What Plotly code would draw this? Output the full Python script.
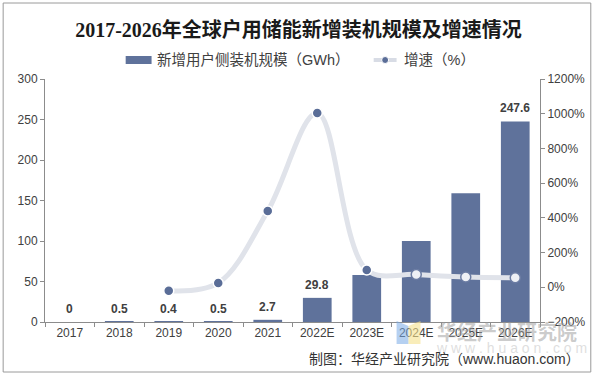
import plotly.graph_objects as go

categories = ["2017", "2018", "2019", "2020", "2021", "2022E", "2023E", "2024E", "2025E", "2026E"]
capacity_gwh = [0, 0.5, 0.4, 0.5, 2.7, 29.8, 58, 100, 159, 247.6]
capacity_labels = ["0", "0.5", "0.4", "0.5", "2.7", "29.8", None, None, None, "247.6"]
growth_pct = [None, None, -20, 25, 440, 1004, 100, 74, 59, 55]

W, H = 597, 377
ML, MR, MT, MB = 45, 55, 79, 55
PW, PH = W - ML - MR, H - MT - MB


def px(x):
    return (x - ML) / PW


def py(y):
    return (H - MB - y) / PH


FONT = "Liberation Sans, Noto Sans CJK SC, sans-serif"
BAR_COLOR = "#5f729b"

fig = go.Figure()

fig.add_trace(go.Bar(
    x=categories, y=capacity_gwh, marker_color=BAR_COLOR, marker_line_width=0,
    yaxis="y", showlegend=False, hoverinfo="x+y",
))

marker_fill = ["#5a6d97"] * 7 + ["#eef0f5"] * 3
marker_line = ["#ffffff"] * 7 + ["#6b7ca3"] * 3
fig.add_trace(go.Scatter(
    x=categories, y=growth_pct, yaxis="y2", mode="lines+markers",
    line=dict(color="#e0e3ea", width=5, shape="spline", smoothing=1.0),
    marker=dict(size=10, color=marker_fill, line=dict(color=marker_line, width=1.5)),
    connectgaps=False, showlegend=False,
))

annotations = []
for i, (v, t) in enumerate(zip(capacity_gwh, capacity_labels)):
    if t is None:
        continue
    annotations.append(dict(
        x=i, y=v, xref="x", yref="y", text="<b>%s</b>" % t, showarrow=False,
        yanchor="bottom", yshift=4, font=dict(family=FONT, size=12, color="#404040"),
    ))

# custom legend
annotations.append(dict(
    x=px(155), y=py(60), xref="paper", yref="paper", xanchor="left", yanchor="middle",
    text="新增用户侧装机规模（GWh）", showarrow=False,
    font=dict(family=FONT, size=14.5, color="#404040"),
))
annotations.append(dict(
    x=px(403), y=py(60), xref="paper", yref="paper", xanchor="left", yanchor="middle",
    text="增速（%）", showarrow=False,
    font=dict(family=FONT, size=14.5, color="#404040"),
))

# watermark
annotations.append(dict(
    x=px(509), y=py(331), xref="paper", yref="paper", xanchor="center", yanchor="middle",
    text="<b>华经产业研究院</b>", showarrow=False,
    font=dict(family="Noto Sans CJK SC", size=20, color="rgba(160,160,160,0.55)"),
))
annotations.append(dict(
    x=px(513), y=py(348), xref="paper", yref="paper", xanchor="center", yanchor="middle",
    text="w w w . h u a o n . c o m", showarrow=False,
    font=dict(family=FONT, size=14, color="rgba(190,190,190,0.5)"),
))
# source
annotations.append(dict(
    x=px(584), y=py(359), xref="paper", yref="paper", xanchor="right", yanchor="middle",
    text="制图：华经产业研究院（www.huaon.com）", showarrow=False,
    font=dict(family=FONT, size=14, color="#333333"),
))

shapes = [
    # outer border
    dict(type="rect", xref="paper", yref="paper", x0=px(3), x1=px(593), y0=py(372), y1=py(3),
         line=dict(color="#9a9a9a", width=1), fillcolor="rgba(0,0,0,0)", layer="below"),
    # legend bar swatch
    dict(type="rect", xref="paper", yref="paper", x0=px(126), x1=px(152), y0=py(64), y1=py(56),
         line=dict(width=0), fillcolor=BAR_COLOR),
    # legend line
    dict(type="line", xref="paper", yref="paper", x0=px(375), x1=px(398), y0=py(60), y1=py(60),
         line=dict(color="#d8dce5", width=4)),
    dict(type="circle", xref="paper", yref="paper", x0=px(383), x1=px(390), y0=py(63.5), y1=py(56.5),
         line=dict(color="#ffffff", width=1), fillcolor="#5a6d97"),
    # watermark logo
    dict(type="path", xref="paper", yref="paper",
         path="M %f,%f L %f,%f L %f,%f L %f,%f Z" % (px(398), py(321), px(410), py(326), px(410), py(344), px(398), py(344)),
         line=dict(width=0), fillcolor="rgba(120,170,230,0.55)"),
    dict(type="path", xref="paper", yref="paper",
         path="M %f,%f L %f,%f L %f,%f L %f,%f Z" % (px(410), py(326), px(422), py(321), px(422), py(344), px(410), py(344)),
         line=dict(width=0), fillcolor="rgba(245,225,140,0.6)"),
]

fig.update_layout(
    width=W, height=H,
    margin=dict(l=ML, r=MR, t=MT, b=MB),
    paper_bgcolor="white", plot_bgcolor="white",
    title=dict(text="<b>2017-2026年全球户用储能新增装机规模及增速情况</b>",
               x=0.5, xanchor="center", y=1 - 30 / H, yanchor="middle",
               font=dict(family="Liberation Serif, Noto Sans CJK SC, serif", size=20, color="#1a1a1a")),
    bargap=0.42,
    showlegend=False,
    xaxis=dict(
        type="category", range=[-0.5, len(categories) - 0.5],
        showline=True, linecolor="#8c8c8c", linewidth=1,
        ticks="outside", tickson="boundaries", ticklen=4, tickcolor="#8c8c8c",
        tickfont=dict(family=FONT, size=12, color="#404040"),
        showgrid=False, zeroline=False,
    ),
    yaxis=dict(
        range=[0, 300], dtick=50, showline=True, linecolor="#8c8c8c", linewidth=1,
        ticks="outside", ticklen=4, tickcolor="#8c8c8c",
        tickfont=dict(family=FONT, size=12, color="#404040"),
        showgrid=False, zeroline=False,
    ),
    yaxis2=dict(
        range=[-200, 1200], dtick=200, overlaying="y", side="right", ticksuffix="%",
        showline=True, linecolor="#8c8c8c", linewidth=1,
        ticks="outside", ticklen=4, tickcolor="#8c8c8c",
        tickfont=dict(family=FONT, size=12, color="#404040"),
        showgrid=False, zeroline=False,
    ),
    annotations=annotations,
    shapes=shapes,
)

fig.write_html(
    "out.html",
    config={"displayModeBar": False},
    post_script="document.body.style.margin='0px';document.body.style.overflow='hidden';",
)
